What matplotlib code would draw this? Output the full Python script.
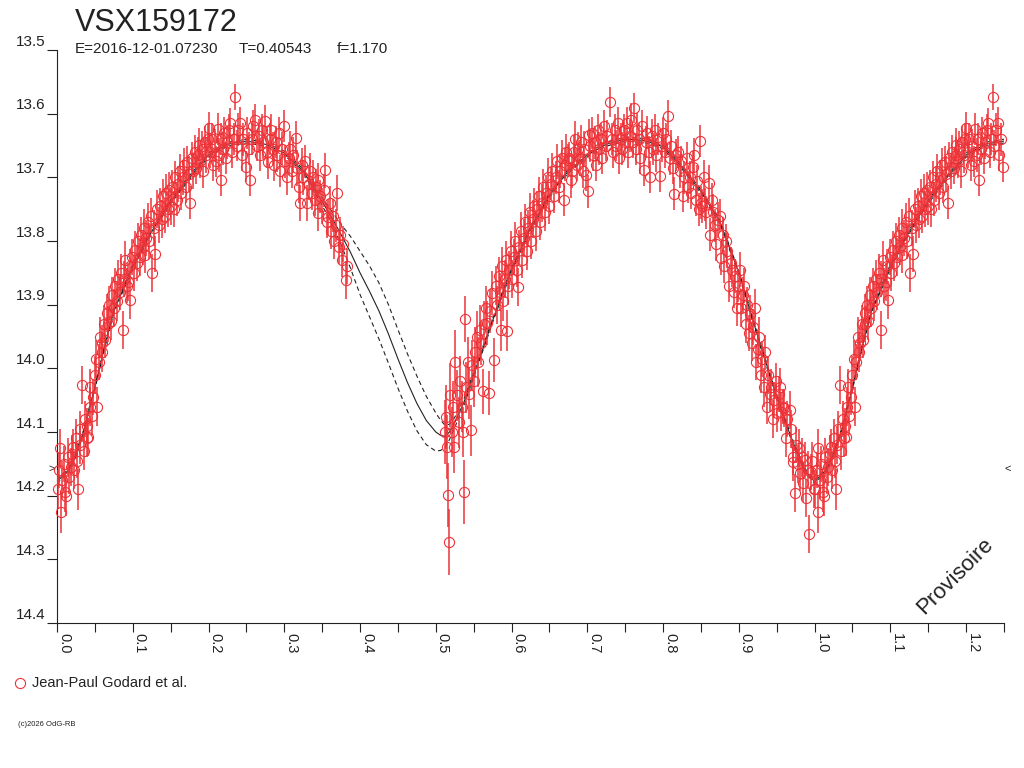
import matplotlib
matplotlib.use('Agg')
import matplotlib.pyplot as plt
import numpy as np

plt.rcParams['font.family'] = ['Liberation Sans', 'DejaVu Sans']

# ---------------- data (phase 0..1, repeated beyond 1 up to 1.25) ----------------
phase = [
    # 0.00-0.05
    0.001, 0.003, 0.004, 0.005, 0.007, 0.009, 0.011, 0.012, 0.014, 0.016, 0.018, 0.020, 0.021, 0.023, 0.025,
    0.027, 0.028, 0.030, 0.031, 0.033, 0.035, 0.037, 0.039, 0.040, 0.041, 0.043, 0.044, 0.046, 0.048, 0.050,
    # 0.05-0.10
    0.052, 0.053, 0.055, 0.057, 0.059, 0.060, 0.062, 0.064, 0.066, 0.067, 0.069, 0.071, 0.073, 0.075,
    0.077, 0.079, 0.081, 0.083, 0.085, 0.087, 0.088, 0.090, 0.092, 0.094, 0.096, 0.097, 0.099,
    # 0.10-0.15
    0.101, 0.103, 0.105, 0.107, 0.109, 0.111, 0.113, 0.115, 0.116, 0.118, 0.120, 0.122, 0.124,
    0.126, 0.128, 0.130, 0.132, 0.134, 0.136, 0.138, 0.140, 0.142, 0.144, 0.146, 0.148, 0.150,
    # 0.15-0.20
    0.152, 0.154, 0.156, 0.158, 0.160, 0.162, 0.164, 0.166, 0.168, 0.170, 0.172, 0.174, 0.176,
    0.178, 0.180, 0.182, 0.184, 0.186, 0.187, 0.189, 0.191, 0.193, 0.195, 0.197, 0.199,
    # 0.20-0.25
    0.200, 0.202, 0.204, 0.206, 0.208, 0.210, 0.212, 0.214, 0.216, 0.217, 0.219, 0.221, 0.223,
    0.225, 0.227, 0.229, 0.231, 0.233, 0.235, 0.237, 0.239, 0.242, 0.244, 0.246, 0.249,
    # 0.25-0.30
    0.251, 0.253, 0.255, 0.257, 0.259, 0.262, 0.264, 0.266, 0.268, 0.270, 0.272, 0.275,
    0.277, 0.279, 0.281, 0.283, 0.285, 0.287, 0.289, 0.291, 0.293, 0.295, 0.297, 0.299,
    # 0.30-0.38
    0.301, 0.304, 0.306, 0.308, 0.310, 0.312, 0.315, 0.317, 0.319, 0.321, 0.323, 0.325, 0.327, 0.330,
    0.332, 0.334, 0.336, 0.338, 0.340, 0.342, 0.344, 0.345, 0.347, 0.350, 0.352, 0.354, 0.356, 0.358,
    0.360, 0.362, 0.364, 0.366, 0.368, 0.370, 0.372, 0.374, 0.376, 0.378, 0.381, 0.383,
    # 0.51-0.56
    0.512, 0.513, 0.515, 0.516, 0.517, 0.519, 0.521, 0.523, 0.524, 0.526, 0.528, 0.530, 0.532, 0.534,
    0.536, 0.537, 0.539, 0.540, 0.542, 0.544, 0.546, 0.548, 0.550, 0.552, 0.554, 0.556, 0.558,
    # 0.56-0.60
    0.560, 0.562, 0.564, 0.566, 0.568, 0.570, 0.572, 0.574, 0.577, 0.579, 0.581, 0.583,
    0.585, 0.586, 0.587, 0.589, 0.591, 0.593, 0.594, 0.595, 0.597, 0.599,
    # 0.60-0.65
    0.601, 0.603, 0.605, 0.607, 0.608, 0.610, 0.612, 0.614, 0.616, 0.618, 0.620, 0.622, 0.624,
    0.626, 0.628, 0.630, 0.632, 0.634, 0.636, 0.638, 0.640, 0.642, 0.644, 0.646, 0.648, 0.650,
    # 0.65-0.70
    0.652, 0.654, 0.656, 0.658, 0.660, 0.662, 0.664, 0.666, 0.669, 0.670, 0.672, 0.675, 0.676,
    0.679, 0.680, 0.682, 0.684, 0.686, 0.688, 0.690, 0.692, 0.694, 0.696, 0.698, 0.701,
    # 0.70-0.75
    0.702, 0.704, 0.706, 0.708, 0.710, 0.712, 0.714, 0.716, 0.718, 0.720, 0.722, 0.724,
    0.726, 0.730, 0.732, 0.734, 0.736, 0.738, 0.740, 0.742, 0.744, 0.746, 0.748, 0.750,
    # 0.75-0.80
    0.752, 0.754, 0.756, 0.758, 0.760, 0.762, 0.764, 0.766, 0.768, 0.770, 0.772, 0.775,
    0.777, 0.779, 0.781, 0.783, 0.785, 0.787, 0.789, 0.791, 0.793, 0.796, 0.798, 0.800,
    # 0.80-0.85
    0.802, 0.804, 0.807, 0.809, 0.811, 0.813, 0.815, 0.817, 0.820, 0.822, 0.824, 0.826,
    0.828, 0.831, 0.833, 0.835, 0.837, 0.840, 0.841, 0.843, 0.845, 0.847, 0.849, 0.850,
    # 0.85-0.90
    0.852, 0.854, 0.855, 0.857, 0.860, 0.862, 0.864, 0.866, 0.868, 0.870, 0.873, 0.875,
    0.877, 0.879, 0.881, 0.883, 0.885, 0.887, 0.889, 0.891, 0.893, 0.895, 0.897, 0.899,
    # 0.90-0.95
    0.901, 0.903, 0.905, 0.907, 0.909, 0.911, 0.913, 0.915, 0.917, 0.919, 0.921, 0.923, 0.925,
    0.927, 0.929, 0.931, 0.933, 0.935, 0.937, 0.939, 0.941, 0.943, 0.945, 0.947, 0.949,
    # 0.95-1.00
    0.951, 0.953, 0.954, 0.956, 0.958, 0.960, 0.962, 0.964, 0.967, 0.969, 0.971, 0.972, 0.974,
    0.976, 0.978, 0.979, 0.981, 0.983, 0.985, 0.987, 0.989, 0.991, 0.993, 0.995, 0.997, 0.999,
]

mag = [
    14.190, 14.160, 14.125, 14.226, 14.175, 14.150, 14.195, 14.200, 14.140, 14.170, 14.155, 14.135, 14.123, 14.160, 14.110,
    14.145, 14.190, 14.120, 14.095, 14.026, 14.130, 14.080, 14.110, 14.090, 14.108, 14.060, 14.029, 14.075, 14.045, 14.010,
    13.985, 14.060, 13.990, 13.950, 13.975, 13.960, 13.930, 13.955, 13.913, 13.930, 13.900, 13.925, 13.885, 13.905,
    13.870, 13.895, 13.860, 13.880, 13.850, 13.940, 13.860, 13.830, 13.870, 13.864, 13.840, 13.893, 13.825,
    13.850, 13.814, 13.835, 13.800, 13.825, 13.790, 13.810, 13.780, 13.822, 13.795, 13.770, 13.800, 13.760,
    13.850, 13.780, 13.820, 13.750, 13.775, 13.745, 13.765, 13.730, 13.760, 13.725, 13.750, 13.720, 13.745,
    13.715, 13.750, 13.700, 13.735, 13.710, 13.690, 13.725, 13.700, 13.680, 13.715, 13.676, 13.695, 13.740,
    13.670, 13.690, 13.660, 13.685, 13.665, 13.649, 13.675, 13.655, 13.690, 13.645, 13.665, 13.640,
    13.623, 13.660, 13.640, 13.680, 13.650, 13.675, 13.624, 13.665, 13.640, 13.704, 13.655, 13.630, 13.670,
    13.645, 13.625, 13.615, 13.660, 13.640, 13.574, 13.650, 13.625, 13.615, 13.665, 13.640, 13.683,
    13.630, 13.655, 13.704, 13.640, 13.620, 13.610, 13.650, 13.635, 13.665, 13.625, 13.645, 13.612,
    13.660, 13.676, 13.640, 13.625, 13.655, 13.680, 13.645, 13.665, 13.630, 13.690, 13.655, 13.620,
    13.675, 13.700, 13.670, 13.655, 13.690, 13.665, 13.638, 13.685, 13.715, 13.740, 13.680, 13.700, 13.675, 13.740,
    13.710, 13.690, 13.725, 13.700, 13.735, 13.715, 13.704, 13.756, 13.730, 13.745, 13.720, 13.689, 13.770, 13.762,
    13.740, 13.785, 13.760, 13.800, 13.775, 13.725, 13.810, 13.790, 13.830, 13.805, 13.861, 13.840,
    14.100, 14.076, 14.124, 14.199, 14.273, 14.042, 14.100, 14.060, 14.124, 13.990, 14.042, 14.085, 14.020, 14.060,
    14.100, 14.194, 13.923, 14.030, 13.990, 14.040, 14.097, 13.995, 14.020, 13.975, 13.950, 13.990, 13.940,
    13.960, 14.036, 13.930, 13.905, 13.929, 14.039, 13.910, 13.882, 13.987, 13.870, 13.900, 13.855,
    13.880, 13.940, 13.840, 13.895, 13.860, 13.830, 13.941, 13.870, 13.845, 13.815,
    13.860, 13.825, 13.800, 13.845, 13.872, 13.810, 13.785, 13.830, 13.795, 13.770, 13.815, 13.780, 13.755,
    13.800, 13.765, 13.745, 13.785, 13.750, 13.730, 13.770, 13.740, 13.715, 13.755, 13.725, 13.700, 13.745,
    13.710, 13.690, 13.730, 13.700, 13.675, 13.715, 13.690, 13.670, 13.735, 13.680, 13.660, 13.673, 13.670,
    13.704, 13.690, 13.660, 13.640, 13.680, 13.655, 13.670, 13.644, 13.690, 13.655, 13.696, 13.722,
    13.633, 13.650, 13.630, 13.665, 13.645, 13.680, 13.625, 13.655, 13.640, 13.670, 13.620, 13.650,
    13.635, 13.582, 13.640, 13.660, 13.625, 13.650, 13.615, 13.670, 13.640, 13.655, 13.625, 13.645,
    13.615, 13.660, 13.635, 13.610, 13.645, 13.591, 13.655, 13.625, 13.640, 13.670, 13.620, 13.688,
    13.645, 13.630, 13.660, 13.700, 13.635, 13.655, 13.625, 13.665, 13.640, 13.698, 13.650, 13.630,
    13.660, 13.640, 13.604, 13.670, 13.650, 13.685, 13.726, 13.665, 13.660, 13.690, 13.675, 13.730,
    13.700, 13.670, 13.715, 13.700, 13.725, 13.683, 13.665, 13.735, 13.705, 13.750, 13.643, 13.740,
    13.745, 13.700, 13.743, 13.755, 13.709, 13.790, 13.735, 13.754, 13.775, 13.805, 13.767, 13.760,
    13.827, 13.790, 13.840, 13.800, 13.815, 13.870, 13.835, 13.845, 13.880, 13.855, 13.905, 13.870,
    13.845, 13.905, 13.885, 13.870, 13.930, 13.900, 13.945, 13.915, 13.960, 13.935, 13.905, 13.990, 13.970,
    13.950, 14.010, 13.985, 14.030, 13.975, 14.060, 14.010, 14.040, 14.029, 14.080, 14.050, 14.020,
    14.070, 14.040, 14.029, 14.068, 14.060, 14.062, 14.110, 14.080, 14.065, 14.095, 14.140, 14.147, 14.196,
    14.120, 14.150, 14.125, 14.165, 14.140, 14.180, 14.144, 14.204, 14.160, 14.260, 14.163, 14.145, 14.190,
]

err = [
    0.030, 0.028, 0.030, 0.032, 0.030, 0.028, 0.030, 0.032, 0.030, 0.028, 0.030, 0.030, 0.028, 0.030, 0.030,
    0.028, 0.032, 0.030, 0.028, 0.030, 0.030, 0.028, 0.030, 0.028, 0.030, 0.030, 0.028, 0.030, 0.028, 0.030,
    0.030, 0.030, 0.028, 0.030, 0.030, 0.028, 0.030, 0.028, 0.030, 0.028, 0.030, 0.030, 0.028, 0.030,
    0.028, 0.030, 0.030, 0.028, 0.030, 0.030, 0.028, 0.030, 0.028, 0.030, 0.028, 0.030, 0.028,
    0.028, 0.030, 0.028, 0.028, 0.030, 0.028, 0.028, 0.030, 0.028, 0.028, 0.030, 0.028, 0.028,
    0.030, 0.028, 0.028, 0.030, 0.028, 0.028, 0.030, 0.028, 0.028, 0.030, 0.028, 0.028, 0.030,
    0.026, 0.028, 0.026, 0.026, 0.028, 0.026, 0.026, 0.028, 0.026, 0.026, 0.026, 0.028, 0.026,
    0.026, 0.028, 0.026, 0.026, 0.028, 0.026, 0.026, 0.028, 0.026, 0.026, 0.028, 0.026,
    0.025, 0.026, 0.025, 0.025, 0.026, 0.025, 0.025, 0.026, 0.025, 0.025, 0.026, 0.025, 0.025,
    0.026, 0.025, 0.024, 0.026, 0.025, 0.020, 0.025, 0.026, 0.025, 0.025, 0.026, 0.025,
    0.025, 0.026, 0.025, 0.025, 0.026, 0.025, 0.025, 0.026, 0.025, 0.025, 0.026, 0.025,
    0.025, 0.026, 0.025, 0.025, 0.026, 0.025, 0.025, 0.026, 0.025, 0.025, 0.026, 0.025,
    0.026, 0.028, 0.026, 0.028, 0.026, 0.028, 0.026, 0.028, 0.026, 0.028, 0.026, 0.028, 0.026, 0.028,
    0.026, 0.028, 0.026, 0.028, 0.026, 0.028, 0.026, 0.028, 0.026, 0.028, 0.026, 0.028, 0.026, 0.028,
    0.026, 0.028, 0.026, 0.028, 0.026, 0.028, 0.026, 0.028, 0.026, 0.028, 0.030, 0.028,
    0.050, 0.050, 0.050, 0.050, 0.052, 0.050, 0.040, 0.040, 0.040, 0.050, 0.040, 0.040, 0.040, 0.040,
    0.040, 0.050, 0.036, 0.040, 0.040, 0.040, 0.040, 0.040, 0.040, 0.040, 0.040, 0.040, 0.040,
    0.035, 0.035, 0.035, 0.035, 0.035, 0.035, 0.035, 0.035, 0.035, 0.030, 0.030, 0.030,
    0.030, 0.032, 0.030, 0.030, 0.030, 0.030, 0.032, 0.030, 0.030, 0.030,
    0.030, 0.028, 0.030, 0.028, 0.030, 0.028, 0.030, 0.028, 0.030, 0.028, 0.030, 0.028, 0.030,
    0.028, 0.030, 0.028, 0.030, 0.028, 0.030, 0.028, 0.030, 0.028, 0.030, 0.028, 0.030, 0.028,
    0.026, 0.028, 0.026, 0.026, 0.028, 0.026, 0.026, 0.028, 0.026, 0.026, 0.028, 0.026, 0.026,
    0.028, 0.026, 0.026, 0.028, 0.026, 0.026, 0.028, 0.026, 0.026, 0.028, 0.026, 0.026,
    0.025, 0.026, 0.025, 0.025, 0.026, 0.025, 0.025, 0.026, 0.025, 0.025, 0.026, 0.025,
    0.025, 0.024, 0.025, 0.026, 0.025, 0.025, 0.026, 0.025, 0.025, 0.026, 0.025, 0.025,
    0.026, 0.025, 0.025, 0.026, 0.025, 0.024, 0.025, 0.026, 0.025, 0.025, 0.026, 0.025,
    0.025, 0.026, 0.025, 0.025, 0.026, 0.025, 0.025, 0.026, 0.025, 0.025, 0.026, 0.025,
    0.026, 0.025, 0.025, 0.026, 0.025, 0.025, 0.026, 0.025, 0.025, 0.026, 0.025, 0.025,
    0.026, 0.025, 0.025, 0.026, 0.025, 0.025, 0.026, 0.025, 0.025, 0.026, 0.025, 0.026,
    0.026, 0.028, 0.026, 0.026, 0.028, 0.026, 0.026, 0.028, 0.026, 0.026, 0.028, 0.026,
    0.026, 0.028, 0.026, 0.026, 0.028, 0.026, 0.026, 0.028, 0.026, 0.026, 0.028, 0.026,
    0.028, 0.030, 0.028, 0.028, 0.030, 0.028, 0.028, 0.030, 0.028, 0.028, 0.030, 0.028, 0.028,
    0.030, 0.028, 0.028, 0.030, 0.028, 0.028, 0.030, 0.028, 0.028, 0.030, 0.028, 0.028,
    0.030, 0.028, 0.030, 0.030, 0.028, 0.030, 0.030, 0.028, 0.030, 0.030, 0.028, 0.030, 0.030,
    0.028, 0.030, 0.030, 0.028, 0.030, 0.030, 0.028, 0.030, 0.030, 0.030, 0.028, 0.030, 0.030,
]

# fitted light curve (phase, magnitude) and its uncertainty band
fit_phase = [0.000, 0.015, 0.025, 0.035, 0.050, 0.062, 0.075, 0.100, 0.125, 0.150, 0.175, 0.200,
             0.225, 0.250, 0.275, 0.300, 0.325, 0.350, 0.3625, 0.375, 0.3875, 0.400, 0.4125, 0.425,
             0.4375, 0.450, 0.4625, 0.475, 0.4875, 0.500, 0.506, 0.512, 0.518, 0.525, 0.5375, 0.550,
             0.5625, 0.575, 0.5875, 0.600, 0.625, 0.650, 0.675, 0.700, 0.725, 0.750, 0.775,
             0.800, 0.825, 0.850, 0.875, 0.900, 0.925, 0.950, 0.970, 0.987, 1.000]
fit_mag = [14.178, 14.160, 14.135, 14.100, 14.030, 13.970, 13.910, 13.840, 13.785, 13.738, 13.700, 13.665,
           13.648, 13.643, 13.648, 13.662, 13.690, 13.738, 13.763, 13.790, 13.818, 13.850, 13.879, 13.910,
           13.946, 13.985, 14.022, 14.055, 14.082, 14.100, 14.105, 14.107, 14.100, 14.085, 14.052, 14.010,
           13.968, 13.925, 13.884, 13.845, 13.780, 13.728, 13.690, 13.665, 13.648, 13.640, 13.642,
           13.652, 13.684, 13.722, 13.770, 13.850, 13.950, 14.045, 14.112, 14.160, 14.178]
fit_sigma = [0.003, 0.003, 0.003, 0.003, 0.003, 0.003, 0.003, 0.003, 0.003, 0.003, 0.003, 0.003,
             0.003, 0.003, 0.003, 0.003, 0.003, 0.006, 0.010, 0.016, 0.025, 0.034, 0.040, 0.044,
             0.046, 0.046, 0.045, 0.043, 0.038, 0.030, 0.024, 0.018, 0.012, 0.008, 0.005, 0.004,
             0.003, 0.003, 0.003, 0.003, 0.003, 0.003, 0.003, 0.003, 0.003, 0.003, 0.003,
             0.003, 0.003, 0.003, 0.003, 0.003, 0.003, 0.003, 0.003, 0.003, 0.003]

y_ticks = [13.5, 13.6, 13.7, 13.8, 13.9, 14.0, 14.1, 14.2, 14.3, 14.4]
y_labels = ['13.5', '13.6', '13.7', '13.8', '13.9', '14.0', '14.1', '14.2', '14.3', '14.4']
x_ticks = [0.0, 0.05, 0.1, 0.15, 0.2, 0.25, 0.3, 0.35, 0.4, 0.45, 0.5, 0.55, 0.6, 0.65,
           0.7, 0.75, 0.8, 0.85, 0.9, 0.95, 1.0, 1.05, 1.1, 1.15, 1.2, 1.25]
x_labels = ['0.0', '', '0.1', '', '0.2', '', '0.3', '', '0.4', '', '0.5', '', '0.6', '',
            '0.7', '', '0.8', '', '0.9', '', '1.0', '', '1.1', '', '1.2', '']

mean_mag = 14.158
title = 'VSX159172'
observer = 'Jean-Paul Godard et al.'

RED = '#ee3338'
INK = '#222222'

# ---------------- build arrays, phase-folded copy beyond 1 ----------------
ph = np.array(phase)
mg = np.array(mag)
er = np.array(err)
rep = ph <= 0.25
ph_all = np.concatenate([ph, ph[rep] + 1.0])
mg_all = np.concatenate([mg, mg[rep]])
er_all = np.concatenate([er, er[rep]])

fp = np.array(fit_phase)
fm = np.array(fit_mag)
fs = np.array(fit_sigma)
frep = fp <= 0.25
fp_all = np.concatenate([fp, fp[frep][1:] + 1.0])
fm_all = np.concatenate([fm, fm[frep][1:]])
fs_all = np.concatenate([fs, fs[frep][1:]])

# ---------------- figure ----------------
fig = plt.figure(figsize=(10.24, 7.68), dpi=100)
ax = fig.add_axes([57 / 1024, 1 - 623 / 768, 947 / 1024, 573 / 768])
ax.set_xlim(0, 1.25)
ax.set_ylim(14.4, 13.5)

for s in ['top', 'right']:
    ax.spines[s].set_visible(False)
for s in ['left', 'bottom']:
    ax.spines[s].set_color(INK)
    ax.spines[s].set_linewidth(0.8)

# fit curve and band
ax.plot(fp_all, fm_all, color=INK, lw=0.8, zorder=2)
ax.plot(fp_all, fm_all + fs_all, color=INK, lw=0.8, ls=(0, (4, 3)), zorder=2)
ax.plot(fp_all, fm_all - fs_all, color=INK, lw=0.8, ls=(0, (4, 3)), zorder=2)

# observations
cont = ax.errorbar(ph_all, mg_all, yerr=er_all, fmt='o', mfc='none', mec=RED, ms=7.3, mew=0.8,
                   ecolor=RED, elinewidth=1.1, capsize=0, zorder=3)
for art in cont.lines[2]:
    art.set_clip_on(False)
cont.lines[0].set_clip_on(False)

# ticks
ax.set_yticks(y_ticks)
ax.set_yticklabels([])
ax.tick_params(axis='y', direction='out', length=7.5, width=0.8, color=INK)
for v, lab in zip(y_ticks, y_labels):
    ax.annotate(lab, xy=(0, v), xycoords=('axes fraction', 'data'), xytext=(-8.6, 1.0),
                textcoords='offset points', ha='right', va='bottom', fontsize=11, color=INK)

ax.set_xticks(x_ticks)
ax.set_xticklabels(x_labels, rotation=270, ha='left', fontsize=10.5, color=INK)
ax.tick_params(axis='x', direction='out', length=6.5, width=0.8, color=INK, pad=0.5)

# mean-level markers
ax.annotate('>', xy=(0, mean_mag), xycoords=('axes fraction', 'data'), xytext=(-4, 0),
            textcoords='offset points', ha='center', va='center', fontsize=8, color=INK)
ax.annotate('<', xy=(1, mean_mag), xycoords=('axes fraction', 'data'), xytext=(3, 0),
            textcoords='offset points', ha='center', va='center', fontsize=8, color=INK)

# texts
fig.text(75 / 1024, 1 - 31 / 768, title, fontsize=22, color=INK, va='baseline')
fig.text(75 / 1024, 1 - 53 / 768, 'E=2016-12-01.07230', fontsize=11, color=INK, va='baseline')
fig.text(239 / 1024, 1 - 53 / 768, 'T=0.40543', fontsize=11, color=INK, va='baseline')
fig.text(337 / 1024, 1 - 53 / 768, 'f=1.170', fontsize=11, color=INK, va='baseline')

fig.text(955 / 1024, 1 - 576 / 768, 'Provisoire', rotation=45, fontsize=16, color=INK,
         ha='center', va='center')

ax.plot([20 / 1024], [1 - 683 / 768], 'o', mfc='none', mec=RED, ms=7.3, mew=0.8,
        transform=fig.transFigure, clip_on=False)
fig.text(32 / 1024, 1 - 683 / 768, observer, fontsize=10.5, color=INK, va='center')
fig.text(18 / 1024, 1 - 725 / 768, '(c)2026 OdG-RB', fontsize=5.5, color=INK, va='center')

fig.savefig('out.png', dpi=100)
